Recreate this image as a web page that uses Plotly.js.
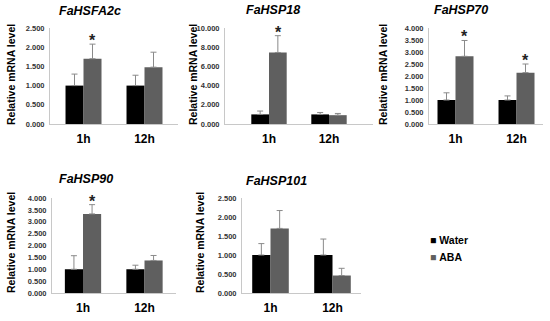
<!DOCTYPE html>
<html>
<head>
<meta charset="utf-8">
<script src="https://cdn.plot.ly/plotly-3.0.1.min.js"></script>
<style>html,body{margin:0;padding:0;background:#fff;}#chart{width:550px;height:321px;}</style>
</head>
<body>
<div id="chart"></div>
<script>
// ---- data ----
const genes = ['FaHSFA2c', 'FaHSP18', 'FaHSP70', 'FaHSP90', 'FaHSP101'];
const times = ['1h', '12h'];
const waterMean = [[1.00, 1.00], [1.00, 1.00], [1.00, 1.00], [1.00, 1.00], [1.00, 1.00]];
const waterErr  = [[0.30, 0.27], [0.35, 0.20], [0.30, 0.17], [0.57, 0.17], [0.30, 0.42]];
const abaMean   = [[1.70, 1.48], [7.45, 0.92], [2.82, 2.14], [3.33, 1.37], [1.70, 0.46]];
const abaErr    = [[0.38, 0.39], [1.75, 0.18], [0.66, 0.36], [0.39, 0.21], [0.47, 0.19]];
const significant = [[1, 0], [1, 0], [1, 1], [1, 0], [0, 0]];
const yMax  = [2.5, 10, 4, 4, 2.5];
const yStep = [0.5, 2, 0.5, 0.5, 0.5];
const seriesNames = ['Water', 'ABA'];

// ---- layout geometry (pixels) ----
const W = 550, H = 321;
const geom = [
  {x0: 50,  x1: 178, c0: 83.5,  c1: 144.5, yb: 124, yt: 28,  tx: 89.5,  ty: 11,  ax: 11,  ay: 75},
  {x0: 225, x1: 373, c0: 269,   c1: 329,   yb: 124, yt: 28,  tx: 272.5, ty: 10,  ax: 193, ay: 75},
  {x0: 429, x1: 543, c0: 455.5, c1: 516.5, yb: 124, yt: 28,  tx: 460.5, ty: 10,  ax: 383, ay: 75},
  {x0: 52,  x1: 176, c0: 83,    c1: 144.5, yb: 293, yt: 198, tx: 86,    ty: 179, ax: 11,  ay: 243},
  {x0: 242, x1: 361, c0: 270.5, c1: 332.5, yb: 293, yt: 198, tx: 276,   ty: 181, ax: 200, ay: 243}
];
const colors = ['#000000', '#5f5f5f'];
const errColor = '#8a8a8a';
const FONT = 'Liberation Sans, Arial, sans-serif';

const traces = [];
const layout = {
  width: W, height: H,
  margin: {l: 0, r: 0, t: 0, b: 0},
  paper_bgcolor: '#ffffff', plot_bgcolor: 'rgba(0,0,0,0)',
  barmode: 'group', bargap: 0.41, bargroupgap: 0,
  showlegend: false,
  font: {family: FONT, color: '#000'},
  annotations: []
};

genes.forEach((g, i) => {
  const s = i === 0 ? '' : String(i + 1);
  const xa = 'x' + s, ya = 'y' + s;
  const gm = geom[i];
  const means = [waterMean[i], abaMean[i]];
  const errs = [waterErr[i], abaErr[i]];
  means.forEach((m, k) => {
    traces.push({
      type: 'bar', name: seriesNames[k], x: times, y: m,
      xaxis: xa, yaxis: ya,
      marker: {color: colors[k], line: {width: 0}},
      error_y: {type: 'data', symmetric: false, array: errs[k], arrayminus: times.map(() => 0),
                color: errColor, thickness: 1, width: 3},
      showlegend: false, hoverinfo: 'skip'
    });
  });
  const span = gm.c1 - gm.c0;
  layout['xaxis' + s] = {
    domain: [gm.x0 / W, gm.x1 / W],
    anchor: ya, type: 'category',
    range: [(gm.x0 - gm.c0) / span, (gm.x1 - gm.c0) / span],
    showline: true, linecolor: '#c8c8c8', linewidth: 1,
    showgrid: false, zeroline: false,
    ticks: 'outside', ticklen: 4, tickcolor: 'rgba(0,0,0,0)',
    tickfont: {family: FONT, size: 12, color: '#000', weight: 'bold'},
    fixedrange: true
  };
  layout['yaxis' + s] = {
    domain: [1 - gm.yb / H, 1 - gm.yt / H],
    anchor: xa, range: [0, yMax[i]],
    dtick: yStep[i], tick0: 0, tickformat: '.3f',
    showline: true, linecolor: '#c8c8c8', linewidth: 1,
    showgrid: false, zeroline: false,
    ticks: 'outside', ticklen: 3, tickcolor: 'rgba(0,0,0,0)',
    tickfont: {family: FONT, size: 7.5, color: '#333', weight: 'bold'},
    fixedrange: true
  };
  // gene title
  layout.annotations.push({
    text: '<b><i>' + g + '</i></b>', xref: 'paper', yref: 'paper',
    x: gm.tx / W, y: 1 - gm.ty / H, xanchor: 'center', yanchor: 'middle',
    showarrow: false, font: {family: FONT, size: 12.5, color: '#000'}
  });
  // y-axis title
  layout.annotations.push({
    text: '<b>Relative mRNA level</b>', xref: 'paper', yref: 'paper',
    x: gm.ax / W, y: 1 - gm.ay / H, xanchor: 'center', yanchor: 'middle',
    textangle: -90, showarrow: false, font: {family: FONT, size: 10.5, color: '#000'}
  });
  // significance asterisks above ABA error bars
  times.forEach((t, j) => {
    if (significant[i][j]) {
      layout.annotations.push({
        text: '<b>*</b>', xref: xa, yref: ya,
        x: j + 9 / span, y: abaMean[i][j] + abaErr[i][j],
        xanchor: 'center', yanchor: 'bottom', yshift: -7,
        showarrow: false, font: {family: FONT, size: 16, color: '#222'}
      });
    }
  });
});

// legend (drawn as text items)
const legendY = [240, 257];
seriesNames.forEach((n, k) => {
  layout.annotations.push({
    text: '<span style="color:' + colors[k] + '">■</span> <b>' + n + '</b>',
    xref: 'paper', yref: 'paper', x: 428 / W, y: 1 - legendY[k] / H,
    xanchor: 'left', yanchor: 'middle', showarrow: false,
    font: {family: FONT, size: 10.5, color: '#000'}
  });
});

Plotly.newPlot('chart', traces, layout, {staticPlot: true, displayModeBar: false});
</script>
</body>
</html>
